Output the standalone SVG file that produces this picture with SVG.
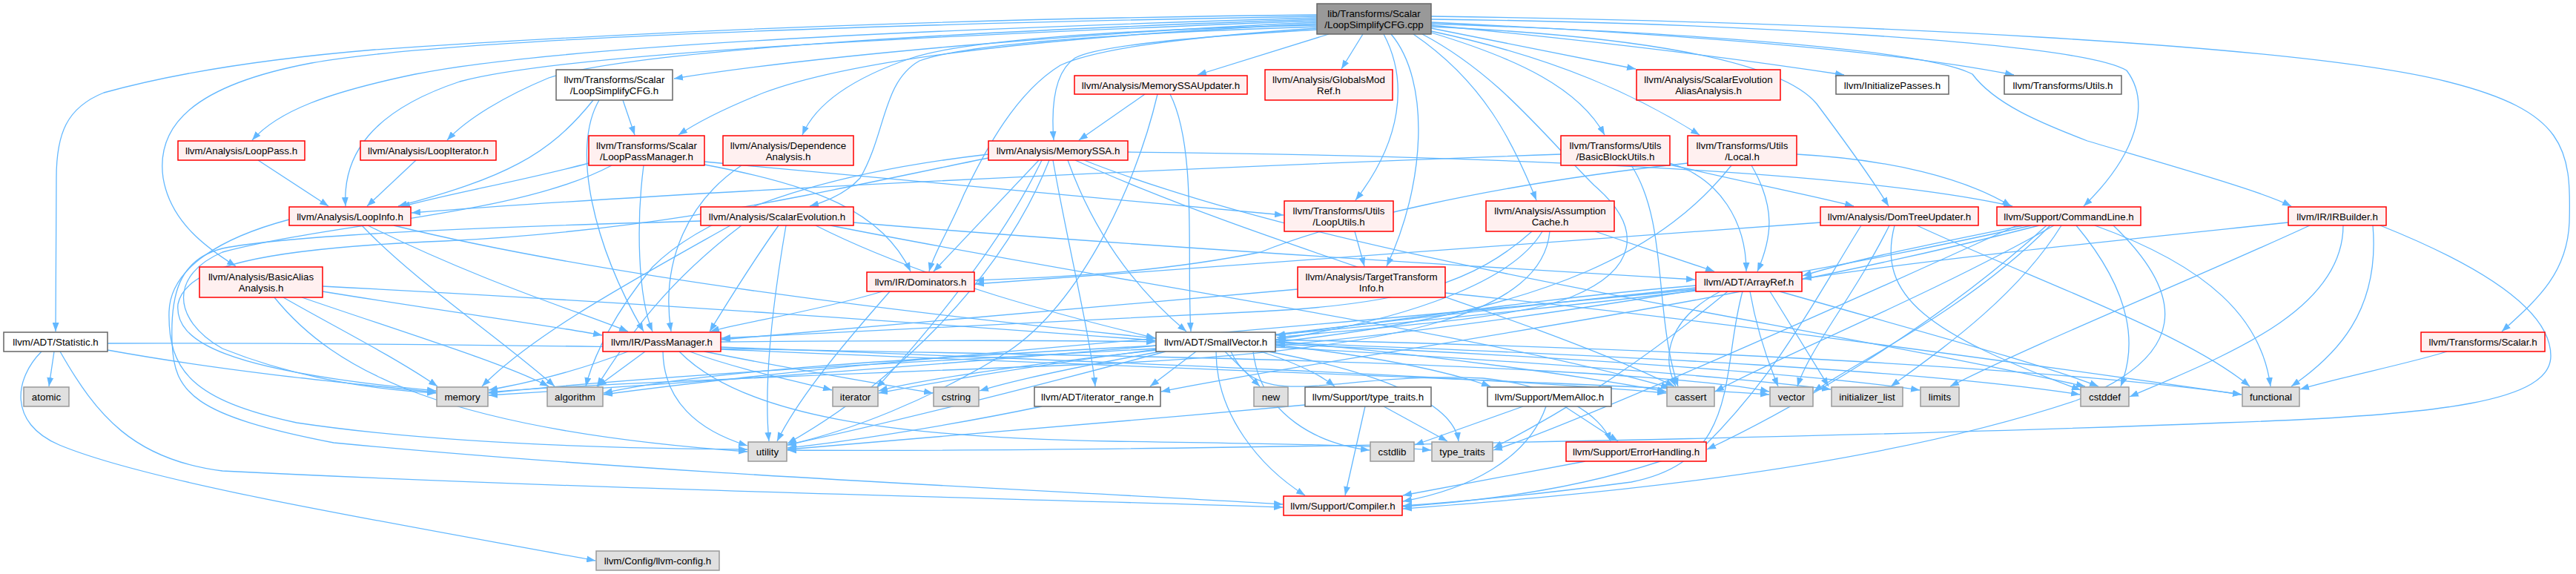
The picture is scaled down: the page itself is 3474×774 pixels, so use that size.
<svg xmlns="http://www.w3.org/2000/svg" width="3474" height="774" viewBox="0 0 3474 774">
<defs>
<marker id="ah" viewBox="0 0 12 9" markerWidth="12" markerHeight="9" refX="12" refY="4.5" orient="auto" markerUnits="userSpaceOnUse"><path d="M0,0 L12,4.5 L0,9 Z" fill="#63b8ff"/></marker>
<style>
.e path{fill:none;stroke:#63b8ff;stroke-width:1.3;marker-end:url(#ah)}
.n rect{stroke-width:1.5}
.red rect{fill:#fff0f0;stroke:#ff0000}
.gray rect{fill:#e0e0e0;stroke:#999999}
.white rect{fill:#ffffff;stroke:#666666}
.root rect{fill:#999999;stroke:#666666}
text{font-family:"Liberation Sans",Arial,sans-serif;font-size:13.33px;text-anchor:middle;fill:#000}
</style>
</defs>
<rect width="3474" height="774" fill="#ffffff"/>
<g id="edges" class="e">
<path d="M1776,30 C1450,45 1100,75 909,106"/>
<path d="M1776,24 C1300,38 760,60 560,100 C440,125 375,150 340,189"/>
<path d="M1776,26 C1300,42 850,68 740,105 C680,130 630,160 603,189"/>
<path d="M1776,28 C1250,48 760,72 620,110 C500,150 462,210 466,278"/>
<path d="M1776,22 C1200,32 600,52 420,85 C260,115 210,170 220,240 C230,300 280,335 318,359"/>
<path d="M1776,20 C1300,25 900,40 505,67 C350,80 230,100 140,125 C90,145 76,180 76,240 L75,447"/>
<path d="M1776,32 C1400,50 1150,80 1030,125 C980,145 940,165 915,182"/>
<path d="M1776,34 C1500,40 1300,55 1230,78 C1150,105 1100,140 1082,182"/>
<path d="M1776,36 C1500,45 1300,60 1240,82 C1190,110 1195,180 1160,240 C1140,262 1110,273 1092,278"/>
<path d="M1776,38 C1600,50 1480,65 1430,88 C1370,125 1330,200 1300,262 C1280,310 1260,340 1253,366"/>
<path d="M1776,40 C1600,50 1480,62 1450,78 C1420,98 1418,150 1421,189"/>
<path d="M1792,46 L1615,101"/>
<path d="M1838,46 L1809,93"/>
<path d="M1866,46 C1900,110 1890,190 1828,270"/>
<path d="M1876,46 C1930,110 1922,250 1870,359"/>
<path d="M1906,46 C2000,110 2040,190 2072,270"/>
<path d="M1918,46 C2020,100 2080,180 2150,250 C2220,310 2205,365 2120,400 C2050,430 1850,442 1722,455"/>
<path d="M1930,44 C2050,80 2130,120 2164,182"/>
<path d="M1930,42 C2100,78 2210,130 2292,182"/>
<path d="M1930,38 L2206,93"/>
<path d="M1930,34 C2150,55 2350,80 2487,101"/>
<path d="M1930,36 C2200,48 2400,80 2450,140 C2495,200 2530,250 2547,278"/>
<path d="M1930,30 C2300,48 2560,70 2716,101"/>
<path d="M1930,26 C2300,30 2800,55 2868,95 C2902,140 2880,210 2810,278"/>
<path d="M1930,32 C2300,45 2600,68 2660,100 C2690,140 2750,165 2815,190 C2950,230 3050,258 3090,278"/>
<path d="M1930,22 C2500,30 3100,60 3300,110 C3460,150 3468,200 3465,300 C3462,370 3420,405 3374,447"/>
<path d="M840,135 L856,182"/>
<path d="M800,135 C740,210 680,240 537,278"/>
<path d="M808,135 C770,200 800,330 868,447"/>
<path d="M348,216 L443,278"/>
<path d="M561,216 L495,278"/>
<path d="M794,220 C700,245 600,262 541,279"/>
<path d="M825,223 C700,290 450,300 300,340 C230,370 230,430 300,470 C400,510 500,525 588,530"/>
<path d="M868,223 C858,300 860,400 880,447"/>
<path d="M950,222 C1100,250 1190,285 1228,366"/>
<path d="M950,218 C1200,240 1500,270 1731,290"/>
<path d="M1000,223 C930,270 890,350 905,447"/>
<path d="M1544,127 L1455,189"/>
<path d="M1578,127 C1615,200 1600,350 1606,447"/>
<path d="M1561,127 C1530,260 1450,420 1350,480 C1250,540 1150,580 1062,600"/>
<path d="M1401,216 L1259,366"/>
<path d="M1333,213 C1100,260 900,310 600,325 C350,335 250,360 240,410 C235,460 300,500 588,527"/>
<path d="M1333,208 C1100,235 950,290 880,360 C830,420 800,480 790,521"/>
<path d="M1405,216 C1350,330 1250,450 1182,523"/>
<path d="M1420,216 C1440,330 1470,450 1477,521"/>
<path d="M1440,216 C1470,300 1520,380 1600,447"/>
<path d="M1450,216 C1700,330 2050,420 2258,521"/>
<path d="M1462,216 C1800,350 2400,430 2812,521"/>
<path d="M1415,216 C1350,380 1200,520 1062,598"/>
<path d="M1521,205 C2000,210 2500,230 2714,278"/>
<path d="M985,304 C850,380 720,450 650,521"/>
<path d="M1000,304 C900,380 850,450 805,521"/>
<path d="M1050,304 C1010,360 980,410 957,447"/>
<path d="M1060,304 C1040,420 1030,520 1037,595"/>
<path d="M1100,304 C1250,380 1450,430 1558,456"/>
<path d="M1120,304 C1500,380 2000,450 2252,523"/>
<path d="M1151,300 C1500,330 2000,360 2286,377"/>
<path d="M945,298 C700,305 400,315 300,335 C240,350 230,400 232,460 C234,530 260,560 450,597 C900,640 1400,660 1730,680"/>
<path d="M488,304 C560,380 680,460 748,521"/>
<path d="M496,304 C650,380 780,420 847,447"/>
<path d="M531,304 C800,370 1200,420 1558,456"/>
<path d="M390,296 C300,320 230,360 228,420 C226,500 260,540 400,570 C600,600 850,605 1008,606"/>
<path d="M435,393 C600,420 750,440 812,452"/>
<path d="M435,386 C900,410 1300,440 1558,459"/>
<path d="M382,401 C450,440 530,480 590,521"/>
<path d="M407,401 C550,450 680,490 740,521"/>
<path d="M370,401 C450,500 600,580 1008,609"/>
<path d="M73,474 L66,521"/>
<path d="M56,474 C20,510 10,570 80,600 C200,650 500,700 803,756"/>
<path d="M81,474 C130,560 180,620 300,635 C800,660 1300,670 1730,684"/>
<path d="M145,472 C300,500 450,515 588,529"/>
<path d="M145,463 C600,462 1000,470 1500,480 C2000,490 2300,510 2386,528"/>
<path d="M847,474 C780,500 720,515 659,526"/>
<path d="M870,474 L806,521"/>
<path d="M894,474 C895,540 940,580 1008,601"/>
<path d="M930,474 C1000,500 1080,515 1122,526"/>
<path d="M950,474 C1080,500 1200,520 1258,530"/>
<path d="M972,461 C1200,459 1400,458 1558,461"/>
<path d="M972,468 C1500,488 2000,508 2247,530"/>
<path d="M972,471 C1600,498 2200,518 2386,532"/>
<path d="M916,474 C1000,560 1200,590 1500,595 C1700,598 1850,600 1930,607"/>
<path d="M1200,393 C1150,450 1080,530 1048,595"/>
<path d="M1190,393 C1100,420 1000,435 958,447"/>
<path d="M1750,390 C1400,420 1100,445 973,458"/>
<path d="M1949,395 C2300,430 2800,500 3023,532"/>
<path d="M2151,312 L2312,366"/>
<path d="M2066,312 C1990,380 1900,410 1700,420 C1400,435 1100,450 973,456"/>
<path d="M2080,312 C2040,380 1900,430 1721,458"/>
<path d="M2090,312 C2080,420 1900,470 1500,490 C1000,510 750,520 659,529"/>
<path d="M2105,208 C1500,230 900,260 555,287"/>
<path d="M2252,220 C2320,240 2355,300 2355,366"/>
<path d="M2252,222 C2350,245 2450,265 2500,278"/>
<path d="M2200,223 C2250,300 2230,420 2263,521"/>
<path d="M2362,223 C2395,280 2390,320 2370,366"/>
<path d="M2335,223 C2250,330 2100,420 1721,461"/>
<path d="M2276,220 C2000,250 1800,300 1700,340 C1550,370 1400,375 1315,378"/>
<path d="M2423,208 C2550,215 2650,240 2712,278"/>
<path d="M2455,300 C2000,330 1600,360 1315,383"/>
<path d="M2548,304 C2500,400 2440,470 2424,521"/>
<path d="M2555,304 C2530,400 2600,450 2806,526"/>
<path d="M2585,304 C2750,380 2950,450 3034,521"/>
<path d="M2510,304 C2450,400 2400,500 2300,600 C2150,660 2000,675 1892,683"/>
<path d="M2729,304 C2600,330 2500,350 2431,372"/>
<path d="M2740,304 C2400,380 2000,440 1721,466"/>
<path d="M2750,304 C2300,420 1800,480 1566,528"/>
<path d="M2760,304 C2600,450 2400,560 2302,606"/>
<path d="M2770,304 C2600,400 2400,480 2313,528"/>
<path d="M2800,304 C2880,400 2880,470 2860,521"/>
<path d="M2825,304 C2980,360 3050,430 3062,521"/>
<path d="M2780,304 C2720,400 2620,470 2550,521"/>
<path d="M2765,304 C2650,420 2500,490 2446,528"/>
<path d="M2720,304 C2400,450 2100,580 2014,607"/>
<path d="M2850,304 C2950,400 2950,480 2800,540 C2500,640 2100,670 1892,686"/>
<path d="M3086,300 C2800,330 2600,350 2431,376"/>
<path d="M3115,304 C2950,380 2750,460 2630,521"/>
<path d="M3160,304 C3160,420 3000,480 2872,535"/>
<path d="M3200,304 C3210,420 3150,480 3090,521"/>
<path d="M3210,304 C3350,360 3440,420 3440,480 C3440,540 3300,560 3000,570 C2500,590 1500,610 1062,607"/>
<path d="M3300,474 C3250,490 3150,510 3102,525"/>
<path d="M1613,474 L1551,521"/>
<path d="M1652,474 L1699,521"/>
<path d="M1572,474 C1400,520 1200,570 1062,600"/>
<path d="M1559,470 C1200,490 900,505 659,530"/>
<path d="M1559,466 C1200,485 950,500 814,530"/>
<path d="M1560,472 C1400,490 1250,510 1185,527"/>
<path d="M1565,474 C1450,495 1370,512 1321,527"/>
<path d="M1640,474 C1640,560 1700,630 1760,668"/>
<path d="M1660,474 C1700,560 1800,500 2000,510 C2100,520 2160,560 2172,595"/>
<path d="M1720,465 C1850,480 1950,500 2010,521"/>
<path d="M1700,474 C1750,490 1780,505 1800,521"/>
<path d="M1710,474 C1850,500 1960,540 1967,595"/>
<path d="M1690,474 C1700,560 1780,600 1847,607"/>
<path d="M1720,460 C1950,480 2150,510 2247,528"/>
<path d="M1720,462 C2200,480 2600,500 2805,532"/>
<path d="M1720,458 C2300,470 2800,500 3023,532"/>
<path d="M1720,468 C2100,490 2350,510 2469,525"/>
<path d="M1720,464 C2100,480 2450,505 2589,526"/>
<path d="M1841,548 L1814,668"/>
<path d="M1866,548 L1952,595"/>
<path d="M1760,546 C1500,570 1200,595 1062,606"/>
<path d="M2085,548 C2060,620 1980,660 1892,676"/>
<path d="M2110,548 L2182,595"/>
<path d="M2054,548 L1908,600"/>
<path d="M2138,622 L1892,668"/>
<path d="M1405,548 C1300,570 1150,595 1062,604"/>
<path d="M2287,385 C2100,400 1900,430 1721,452"/>
<path d="M2350,393 C2320,500 2350,620 2200,650 C2050,670 1950,678 1892,682"/>
<path d="M2320,393 C2250,430 2240,480 2260,521"/>
<path d="M2360,393 C2370,450 2385,490 2398,521"/>
<path d="M2387,393 L2466,521"/>
<path d="M2400,393 C2600,450 2750,490 2830,521"/>
<path d="M2287,388 C1900,430 1500,470 1185,530"/>
<path d="M2287,390 C1800,440 1200,480 814,532"/>
<path d="M2287,392 C1800,450 1200,500 659,533"/>
<path d="M2330,393 C2200,500 2100,560 2014,604"/>
<path d="M1827,312 L1840,359"/>
</g>
<g id="root" class="n root"><rect x="1776" y="5" width="154" height="41"/><text x="1853" y="23">lib/Transforms/Scalar</text><text x="1853" y="38">/LoopSimplifyCFG.cpp</text></g>
<g id="lscfgh" class="n white"><rect x="750" y="94" width="157" height="41"/><text x="828.5" y="112">llvm/Transforms/Scalar</text><text x="828.5" y="127">/LoopSimplifyCFG.h</text></g>
<g id="looppass" class="n red"><rect x="240" y="190" width="171" height="26"/><text x="325.5" y="208">llvm/Analysis/LoopPass.h</text></g>
<g id="loopiter" class="n red"><rect x="486" y="190" width="183" height="26"/><text x="577.5" y="208">llvm/Analysis/LoopIterator.h</text></g>
<g id="lpm" class="n red"><rect x="794" y="183" width="156" height="40"/><text x="872" y="201">llvm/Transforms/Scalar</text><text x="872" y="216">/LoopPassManager.h</text></g>
<g id="depan" class="n red"><rect x="975" y="183" width="176" height="40"/><text x="1063" y="201">llvm/Analysis/Dependence</text><text x="1063" y="216">Analysis.h</text></g>
<g id="mssau" class="n red"><rect x="1449" y="102" width="233" height="25"/><text x="1565.5" y="119.5">llvm/Analysis/MemorySSAUpdater.h</text></g>
<g id="mssa" class="n red"><rect x="1333" y="190" width="188" height="26"/><text x="1427" y="208">llvm/Analysis/MemorySSA.h</text></g>
<g id="gmr" class="n red"><rect x="1706" y="94" width="172" height="41"/><text x="1792" y="112">llvm/Analysis/GlobalsMod</text><text x="1792" y="127">Ref.h</text></g>
<g id="seaa" class="n red"><rect x="2207" y="94" width="194" height="41"/><text x="2304" y="112">llvm/Analysis/ScalarEvolution</text><text x="2304" y="127">AliasAnalysis.h</text></g>
<g id="initp" class="n white"><rect x="2476" y="102" width="152" height="25"/><text x="2552" y="119.5">llvm/InitializePasses.h</text></g>
<g id="tutils" class="n white"><rect x="2703" y="102" width="158" height="25"/><text x="2782" y="119.5">llvm/Transforms/Utils.h</text></g>
<g id="bbu" class="n red"><rect x="2105" y="183" width="147" height="40"/><text x="2178.5" y="201">llvm/Transforms/Utils</text><text x="2178.5" y="216">/BasicBlockUtils.h</text></g>
<g id="local" class="n red"><rect x="2276" y="183" width="147" height="40"/><text x="2349.5" y="201">llvm/Transforms/Utils</text><text x="2349.5" y="216">/Local.h</text></g>
<g id="loopinfo" class="n red"><rect x="390" y="279" width="164" height="25"/><text x="472" y="296.5">llvm/Analysis/LoopInfo.h</text></g>
<g id="se" class="n red"><rect x="945" y="279" width="206" height="25"/><text x="1048" y="296.5">llvm/Analysis/ScalarEvolution.h</text></g>
<g id="looputils" class="n red"><rect x="1732" y="271" width="147" height="41"/><text x="1805.5" y="289">llvm/Transforms/Utils</text><text x="1805.5" y="304">/LoopUtils.h</text></g>
<g id="ac" class="n red"><rect x="2004" y="271" width="173" height="41"/><text x="2090.5" y="289">llvm/Analysis/Assumption</text><text x="2090.5" y="304">Cache.h</text></g>
<g id="dtu" class="n red"><rect x="2455" y="279" width="213" height="25"/><text x="2561.5" y="296.5">llvm/Analysis/DomTreeUpdater.h</text></g>
<g id="cl" class="n red"><rect x="2693" y="279" width="194" height="25"/><text x="2790" y="296.5">llvm/Support/CommandLine.h</text></g>
<g id="irb" class="n red"><rect x="3086" y="279" width="132" height="25"/><text x="3152" y="296.5">llvm/IR/IRBuilder.h</text></g>
<g id="baa" class="n red"><rect x="269" y="360" width="166" height="41"/><text x="352" y="378">llvm/Analysis/BasicAlias</text><text x="352" y="393">Analysis.h</text></g>
<g id="dom" class="n red"><rect x="1169" y="367" width="145" height="26"/><text x="1241.5" y="385">llvm/IR/Dominators.h</text></g>
<g id="tti" class="n red"><rect x="1750" y="360" width="199" height="41"/><text x="1849.5" y="378">llvm/Analysis/TargetTransform</text><text x="1849.5" y="393">Info.h</text></g>
<g id="arrayref" class="n red"><rect x="2287" y="367" width="143" height="26"/><text x="2358.5" y="385">llvm/ADT/ArrayRef.h</text></g>
<g id="stat" class="n white"><rect x="5" y="448" width="140" height="26"/><text x="75" y="466">llvm/ADT/Statistic.h</text></g>
<g id="pm" class="n red"><rect x="813" y="448" width="159" height="26"/><text x="892.5" y="466">llvm/IR/PassManager.h</text></g>
<g id="sv" class="n white"><rect x="1559" y="448" width="161" height="26"/><text x="1639.5" y="466">llvm/ADT/SmallVector.h</text></g>
<g id="tscalar" class="n red"><rect x="3265" y="448" width="167" height="26"/><text x="3348.5" y="466">llvm/Transforms/Scalar.h</text></g>
<g id="atomic" class="n gray"><rect x="32" y="522" width="61" height="26"/><text x="62.5" y="540">atomic</text></g>
<g id="memory" class="n gray"><rect x="589" y="522" width="69" height="26"/><text x="623.5" y="540">memory</text></g>
<g id="algorithm" class="n gray"><rect x="738" y="522" width="75" height="26"/><text x="775.5" y="540">algorithm</text></g>
<g id="iterator" class="n gray"><rect x="1123" y="522" width="61" height="26"/><text x="1153.5" y="540">iterator</text></g>
<g id="cstring" class="n gray"><rect x="1259" y="522" width="61" height="26"/><text x="1289.5" y="540">cstring</text></g>
<g id="itrange" class="n white"><rect x="1395" y="522" width="170" height="26"/><text x="1480" y="540">llvm/ADT/iterator_range.h</text></g>
<g id="new" class="n gray"><rect x="1691" y="522" width="46" height="26"/><text x="1714" y="540">new</text></g>
<g id="typetraitsh" class="n white"><rect x="1760" y="522" width="170" height="26"/><text x="1845" y="540">llvm/Support/type_traits.h</text></g>
<g id="memalloc" class="n white"><rect x="2006" y="522" width="167" height="26"/><text x="2089.5" y="540">llvm/Support/MemAlloc.h</text></g>
<g id="cassert" class="n gray"><rect x="2248" y="522" width="64" height="26"/><text x="2280" y="540">cassert</text></g>
<g id="vector" class="n gray"><rect x="2387" y="522" width="58" height="26"/><text x="2416" y="540">vector</text></g>
<g id="initlist" class="n gray"><rect x="2470" y="522" width="96" height="26"/><text x="2518" y="540">initializer_list</text></g>
<g id="limits" class="n gray"><rect x="2590" y="522" width="52" height="26"/><text x="2616" y="540">limits</text></g>
<g id="cstddef" class="n gray"><rect x="2806" y="522" width="65" height="26"/><text x="2838.5" y="540">cstddef</text></g>
<g id="functional" class="n gray"><rect x="3024" y="522" width="77" height="26"/><text x="3062.5" y="540">functional</text></g>
<g id="utility" class="n gray"><rect x="1009" y="596" width="52" height="26"/><text x="1035" y="614">utility</text></g>
<g id="cstdlib" class="n gray"><rect x="1848" y="596" width="59" height="26"/><text x="1877.5" y="614">cstdlib</text></g>
<g id="type_traits" class="n gray"><rect x="1931" y="596" width="82" height="26"/><text x="1972" y="614">type_traits</text></g>
<g id="errh" class="n red"><rect x="2112" y="596" width="189" height="26"/><text x="2206.5" y="614">llvm/Support/ErrorHandling.h</text></g>
<g id="compiler" class="n red"><rect x="1731" y="669" width="160" height="26"/><text x="1811" y="687">llvm/Support/Compiler.h</text></g>
<g id="config" class="n gray"><rect x="804" y="743" width="166" height="26"/><text x="887" y="761">llvm/Config/llvm-config.h</text></g>
</svg>
